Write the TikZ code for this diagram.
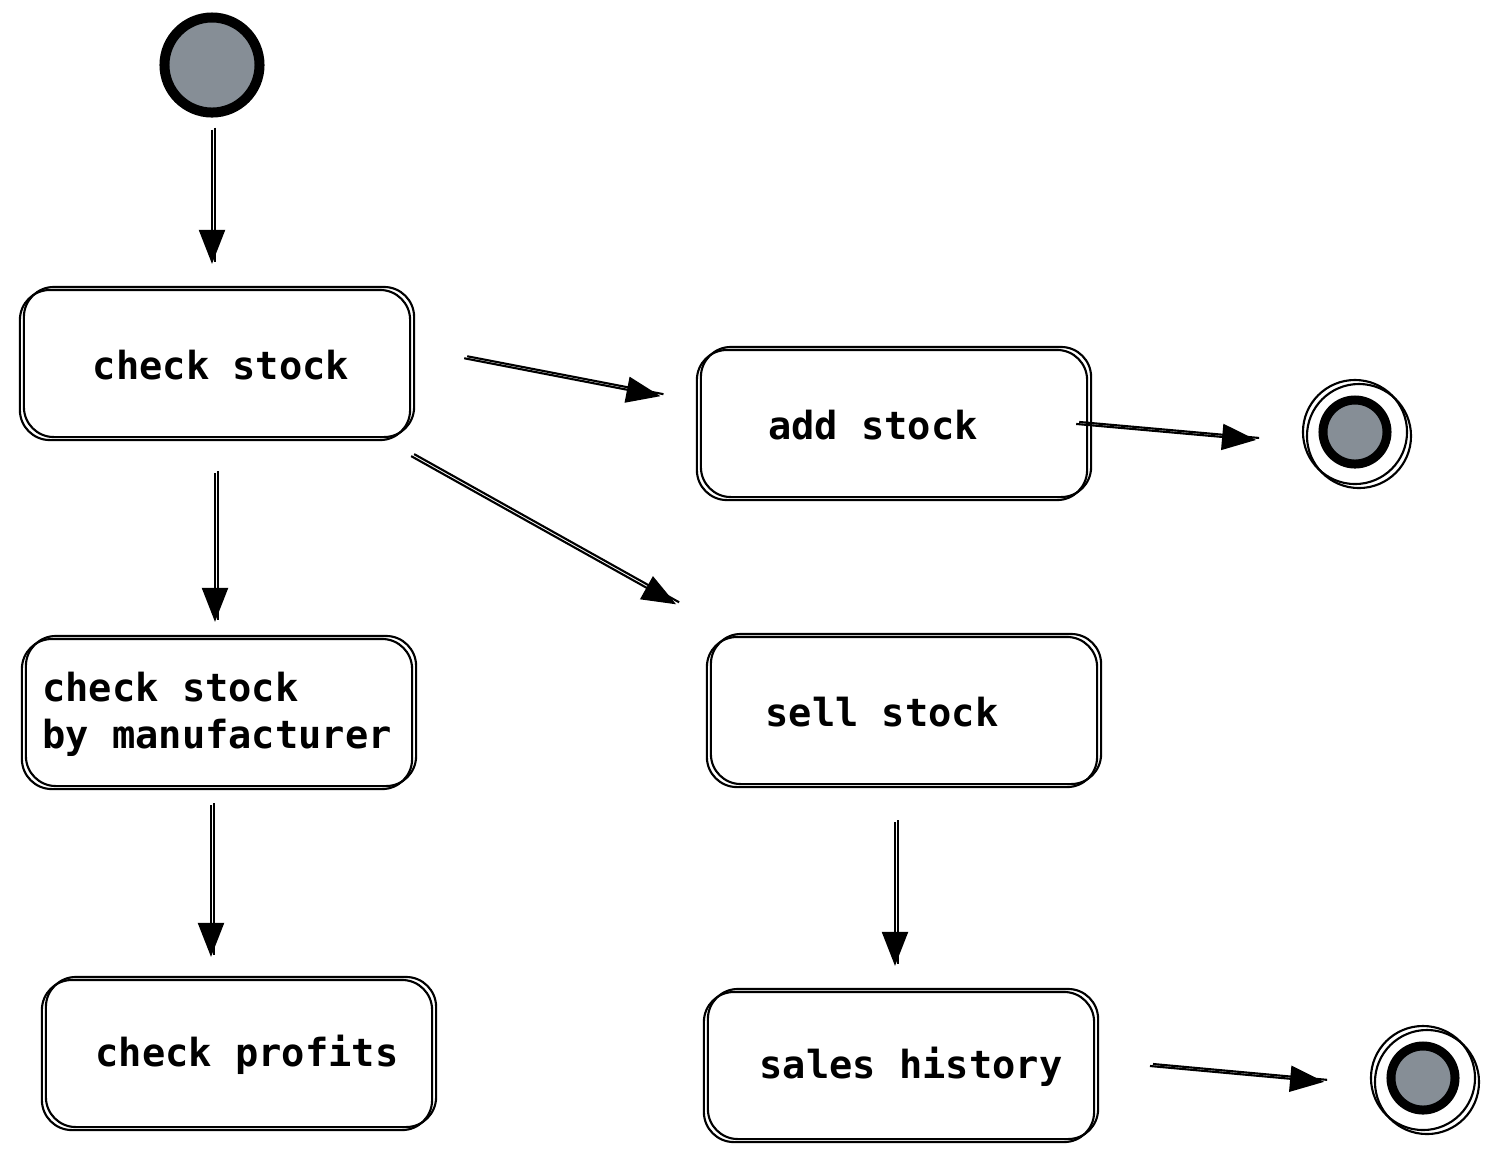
\documentclass[tikz,border=0pt]{standalone}
\usepackage{fontspec}
\setmonofont{DejaVu Sans Mono}
\usetikzlibrary{arrows.meta}
\definecolor{dotgray}{RGB}{134,142,150}

\begin{document}
\begin{tikzpicture}[
  x=0.01cm, y=-0.01cm,
  st/.style={rectangle, draw, rounded corners=3mm, line width=0.6pt,
    minimum width=39mm, minimum height=15mm, align=left,
    font=\fontsize{11}{13.4}\selectfont\ttfamily\bfseries,
    postaction={draw, transform canvas={shift={(0.4mm,0.3mm)}}}},
  nudge/.style={execute at begin node={\hspace*{#1}}, execute at end node={\hspace*{-#1}}},
  startdot/.style={circle, draw, fill=dotgray, line width=1mm, minimum size=9.5mm},
  final/.style={circle, draw, line width=0.6pt, minimum size=10.4mm,
    postaction={draw, transform canvas={shift={(0.4mm,-0.4mm)}}}},
  finaldot/.style={circle, draw, fill=dotgray, line width=0.9mm, minimum size=6.4mm},
  flow/.style={-{Triangle[length=3.4mm,width=2.6mm]}, line width=0.6pt,
    postaction={draw, -, transform canvas={shift={(0.3mm,0.2mm)}}}}
]
\useasboundingbox (0,0) rectangle (1499,1162);

\node[startdot] (start) at (212,65) {};

\node[st, nudge=0.6mm] (cs) at (215,365) {check stock};
\node[st] (csm) at (217,714) {check stock\\by manufacturer};
\node[st, nudge=1mm] (cp) at (237,1055) {check profits};
\node[st, nudge=-1.9mm] (add) at (892,425) {add stock};
\node[st, nudge=-2mm] (sell) at (902,712) {sell stock};
\node[st, nudge=1.2mm] (sh) at (899,1067) {sales history};

\node[final] (end1) at (1355,432) {};
\node[finaldot] (end1c) at (end1) {};
\node[final] (end2) at (1423,1078) {};
\node[finaldot] (end2c) at (end2) {};

\draw[flow, shorten <=1.2mm, shorten >=2.5mm] (start.south) -- (start.south |- cs.north);
\draw[flow, shorten <=3.2mm, shorten >=1.6mm] (cs.south) -- (cs.south |- csm.north);
\draw[flow, shorten <=1.5mm, shorten >=2.2mm] ([xshift=-0.6mm]csm.south) -- ([xshift=-0.6mm]csm.south |- cp.north);
\draw[flow, shorten <=5.4mm, shorten >=3.6mm] ([yshift=1.7mm]cs.east) -- ([yshift=2.2mm]add.west);
\draw[flow, shorten <=-1.2mm, shorten >=4.6mm] (add.east) -- ([yshift=-1.2mm]end1.west);
\draw[flow, shorten >=3.4mm] ([yshift=-1.5mm]cs.south east) -- ([yshift=1.5mm]sell.north west);
\draw[flow, shorten <=3.4mm, shorten >=2.5mm] ([xshift=-0.7mm]sell.south) -- ([xshift=-0.7mm]sell.south |- sh.north);
\draw[flow, shorten <=5.5mm, shorten >=4.6mm] ([yshift=0.6mm]sh.east) -- ([yshift=-0.8mm]end2.west);
\end{tikzpicture}
\end{document}
